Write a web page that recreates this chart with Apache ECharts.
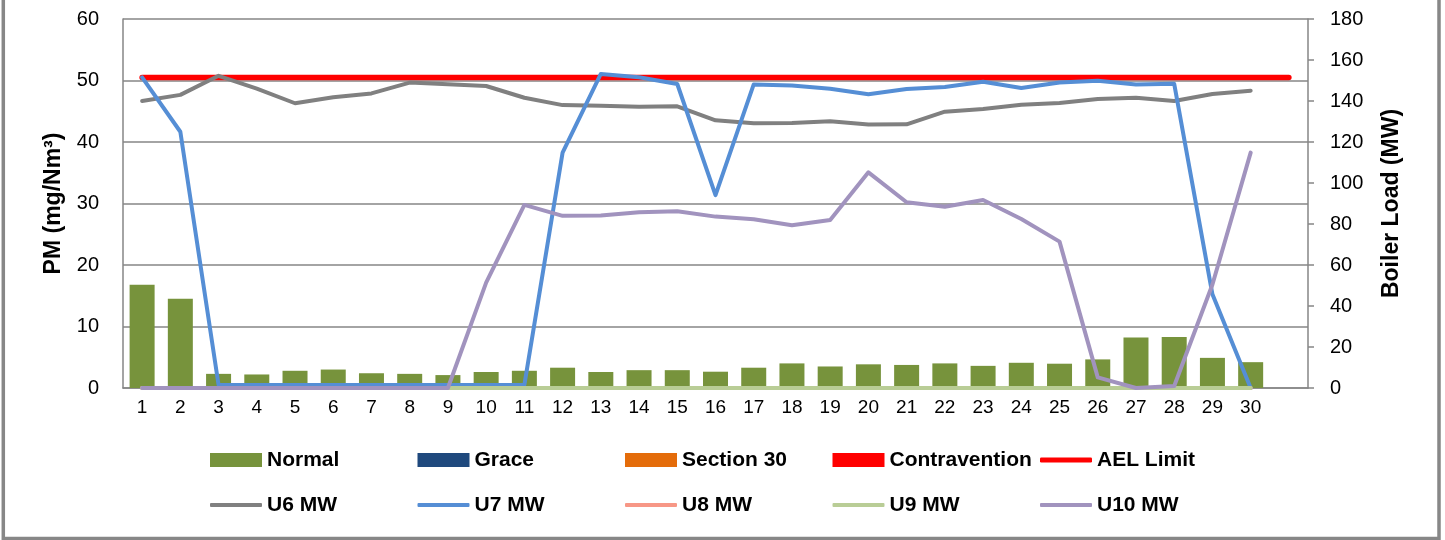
<!DOCTYPE html>
<html>
<head>
<meta charset="utf-8">
<script src="https://cdn.jsdelivr.net/npm/echarts@6/dist/echarts.min.js"></script>
<style>
html, body { margin: 0; padding: 0; background: #fff; }
#main { width: 1445px; height: 540px; }
</style>
</head>
<body>
<div id="main"></div>
<script>
// days of the month (last slot is empty, the AEL line runs to it)
var days = ['1','2','3','4','5','6','7','8','9','10','11','12','13','14','15',
            '16','17','18','19','20','21','22','23','24','25','26','27','28','29','30',''];

// PM (mg/Nm3) by category of compliance
var normal = [16.8,14.5,2.3,2.2,2.8,3.0,2.4,2.3,2.1,2.6,2.8,3.3,2.6,2.9,2.9,
              2.65,3.3,4.0,3.5,3.85,3.75,4.0,3.6,4.1,3.95,4.65,8.2,8.3,4.9,4.2];
var grace = [];
var section30 = [];
var contravention = [];
var aelLimit = [50.5,50.5,50.5,50.5,50.5,50.5,50.5,50.5,50.5,50.5,50.5,50.5,50.5,50.5,50.5,50.5,
                50.5,50.5,50.5,50.5,50.5,50.5,50.5,50.5,50.5,50.5,50.5,50.5,50.5,50.5,50.5];

// boiler load (MW)
var u6 = [140,143,152.3,146,138.9,141.8,143.7,149,148.2,147.3,141.6,138,137.7,137.2,137.4,
          130.6,129.1,129.3,130.1,128.5,128.6,134.8,136.1,138.2,139,141,141.6,140,143.4,145];
var u7 = [151.5,125,1.5,1.5,1.5,1.5,1.5,1.5,1.5,1.5,1.5,114.8,153.2,151.6,148.3,
          94.1,148.1,147.6,146,143.3,145.9,146.8,149.4,146.3,149,149.9,148.1,148.4,45.7,0];
var u8 = [0,0,0,0,0,0,0,0,0,0,0,0,0,0,0,0,0,0,0,0,0,0,0,0,0,0,0,0,0,0];
var u9 = [0,0,0,0,0,0,0,0,0,0,0,0,0,0,0,0,0,0,0,0,0,0,0,0,0,0,0,0,0,0];
var u10 = [0,0,0,0,0,0,0,0,0,51.4,89.3,84,84.2,85.7,86.2,
           83.6,82.3,79.4,82,105.2,90.6,88.4,91.7,82.4,71.4,5.2,0,1,50.5,114.8];

var legendNames = ['Normal','Grace','Section 30','Contravention','AEL Limit',
                   'U6 MW','U7 MW','U8 MW','U9 MW','U10 MW'];
// height of each legend key: boxes for columns, thin strokes for lines
var legendKeyHeights = [14, 14, 14, 14, 5, 4, 4, 4, 4, 4];

var font = '"Liberation Sans", Arial, sans-serif';
var gridGray = '#868686';

var chart = echarts.init(document.getElementById('main'));

// one legend per item so the columns sit on a fixed spacing like Excel
var legends = [];
for (var i = 0; i < legendNames.length; i++) {
    legends.push({
        data: [legendNames[i]],
        left: 210 + (i % 5) * 207.5,
        top: i < 5 ? 449 : 494,
        padding: 0,
        icon: legendKeyHeights[i] > 6 ? 'rect' : 'roundRect',
        itemWidth: 52,
        itemHeight: legendKeyHeights[i],
        selectedMode: false,
        textStyle: { fontFamily: font, fontSize: 21, fontWeight: 'bold', color: '#000', lineHeight: 22 }
    });
}

function lineSeries(name, data, color, width, axis) {
    return {
        name: name,
        type: 'line',
        yAxisIndex: axis,
        data: data,
        symbol: 'none',
        animation: false,
        color: color,
        lineStyle: { color: color, width: width, cap: 'round', join: 'round' }
    };
}

function barSeries(name, data, color) {
    return {
        name: name,
        type: 'bar',
        stack: 'pm',
        barWidth: 25,
        data: data,
        animation: false,
        color: color,
        itemStyle: { color: color }
    };
}

chart.setOption({
    backgroundColor: '#fff',
    animation: false,
    grid: { left: 123, right: 137, top: 19, bottom: 152 },
    legend: legends,
    xAxis: {
        type: 'category',
        data: days,
        boundaryGap: true,
        axisLine: { lineStyle: { color: gridGray, width: 1.5 } },
        axisTick: { alignWithLabel: true, interval: 0, length: 5, lineStyle: { color: gridGray, width: 1.5 } },
        axisLabel: { interval: 0, margin: 10, fontFamily: font, fontSize: 19, color: '#000' }
    },
    yAxis: [
        {
            type: 'value',
            min: 0, max: 60, interval: 10,
            name: 'PM (mg/Nm³)',
            nameLocation: 'middle',
            nameGap: 58,
            nameTextStyle: { fontFamily: font, fontSize: 23, fontWeight: 'bold', color: '#000' },
            axisLine: { show: true, lineStyle: { color: gridGray, width: 1.5 } },
            axisTick: { show: false },
            splitLine: { show: true, lineStyle: { color: gridGray, width: 1.5 } },
            axisLabel: { margin: 24, fontFamily: font, fontSize: 20, color: '#000' }
        },
        {
            type: 'value',
            min: 0, max: 180, interval: 20,
            name: 'Boiler Load (MW)',
            nameLocation: 'middle',
            nameGap: 72,
            nameTextStyle: { fontFamily: font, fontSize: 23, fontWeight: 'bold', color: '#000' },
            axisLine: { show: true, lineStyle: { color: gridGray, width: 1.5 } },
            axisTick: { show: true, inside: false, length: 6, lineStyle: { color: gridGray, width: 1.5 } },
            splitLine: { show: false },
            axisLabel: { margin: 22, fontFamily: font, fontSize: 20, color: '#000' }
        }
    ],
    // outer chart frame
    graphic: [{
        type: 'rect',
        shape: { x: 3.3, y: -10, width: 1435.7, height: 548.5 },
        style: { fill: 'none', stroke: '#878787', lineWidth: 3.5 },
        silent: true
    }],
    series: [
        barSeries('Normal', normal, '#77933C'),
        barSeries('Grace', grace, '#1F497D'),
        barSeries('Section 30', section30, '#E46C0A'),
        barSeries('Contravention', contravention, '#FF0000'),
        lineSeries('AEL Limit', aelLimit, '#FF0000', 5.5, 0),
        lineSeries('U6 MW', u6, '#808080', 4, 1),
        lineSeries('U7 MW', u7, '#558ED5', 4, 1),
        lineSeries('U8 MW', u8, '#F79786', 4, 1),
        lineSeries('U9 MW', u9, '#B9CD96', 4, 1),
        lineSeries('U10 MW', u10, '#A193BE', 4, 1)
    ]
});
</script>
</body>
</html>
